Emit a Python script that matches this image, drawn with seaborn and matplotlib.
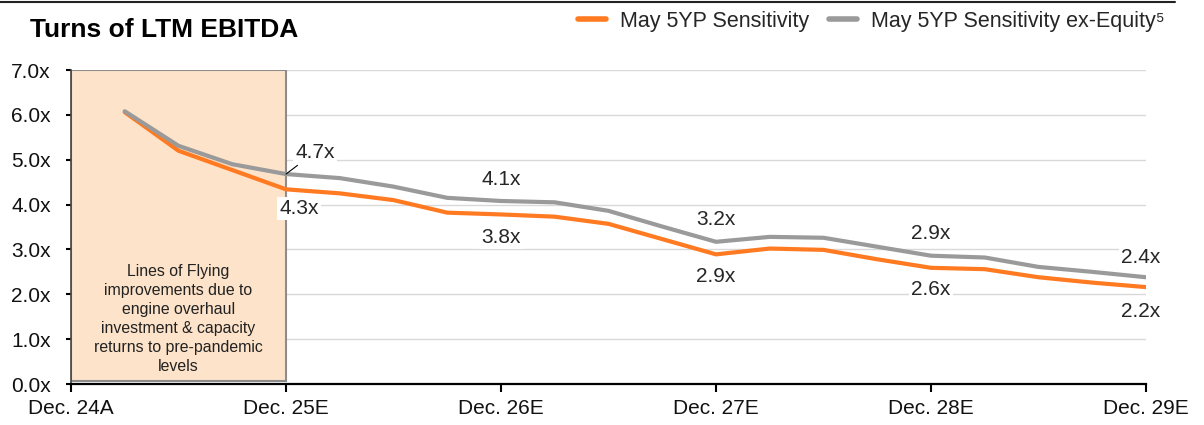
import matplotlib
matplotlib.use("Agg")
import matplotlib.pyplot as plt
import matplotlib.patches as mpatches
from matplotlib.lines import Line2D
import seaborn as sns
import pandas as pd

# ---- data -------------------------------------------------------------
quarters = list(range(1, 21))  # quarter index after Dec. 24A
may_5yp = [6.06, 5.20, 4.77, 4.34, 4.25, 4.10, 3.82, 3.78, 3.73, 3.57,
           3.23, 2.89, 3.02, 2.99, 2.78, 2.59, 2.56, 2.38, 2.26, 2.16]
may_5yp_ex_equity = [6.08, 5.31, 4.90, 4.68, 4.59, 4.40, 4.15, 4.08, 4.05, 3.86,
                     3.51, 3.17, 3.28, 3.26, 3.06, 2.86, 2.82, 2.61, 2.50, 2.38]
tick_positions = [0, 4, 8, 12, 16, 20]
tick_labels = ["Dec. 24A", "Dec. 25E", "Dec. 26E", "Dec. 27E", "Dec. 28E", "Dec. 29E"]
series_names = ["May 5YP Sensitivity", "May 5YP Sensitivity ex-Equity\u2075"]
label_quarters = [4, 8, 12, 16, 20]
y_ticks = [0, 1, 2, 3, 4, 5, 6, 7]
box_text = ("Lines of Flying\nimprovements due to\nengine overhaul\n"
            "investment & capacity\nreturns to pre-pandemic\nlevels")
title = "Turns of LTM EBITDA"

# ---- style ------------------------------------------------------------
sns.set_theme(style="white")
plt.rcParams["font.family"] = ["Liberation Sans", "DejaVu Sans"]

ORANGE = "#FF7A21"
GREY = "#9A9A9A"

df = pd.DataFrame({
    "q": quarters * 2,
    "v": may_5yp + may_5yp_ex_equity,
    "s": [series_names[0]] * len(quarters) + [series_names[1]] * len(quarters),
})

fig = plt.figure(figsize=(12.04, 4.25), dpi=100)
ax = fig.add_axes([71 / 1204, 1 - 384 / 425, (1146 - 71) / 1204, (384 - 70) / 425])

# shaded box
rect = mpatches.Rectangle((0, 0.06), 4, 6.94, facecolor="#FDE3C9",
                          edgecolor="#8C8C8C", linewidth=1.5, zorder=1)
ax.add_patch(rect)
ax.text(2, 1.45, box_text, ha="center", va="center", fontsize=11.4,
        color="#222222", linespacing=1.33, zorder=2)

sns.lineplot(data=df, x="q", y="v", hue="s", palette=[ORANGE, GREY],
             hue_order=series_names, linewidth=3, ax=ax, legend=False, zorder=3)

ax.set_xlim(0, 20)
ax.set_ylim(0, 7)
ax.set_xticks(tick_positions)
ax.set_xticklabels(tick_labels)
ax.set_yticks(y_ticks)
ax.set_yticklabels([f"{t:.1f}x" for t in y_ticks])
ax.set_xlabel("")
ax.set_ylabel("")
ax.yaxis.grid(True, color="#D9D9D9", linewidth=1, zorder=0)
ax.set_axisbelow(True)
for s in ["top", "right"]:
    ax.spines[s].set_visible(False)
ax.spines["bottom"].set_color("black")
ax.spines["bottom"].set_linewidth(1.6)
ax.spines["left"].set_color("#444444")
ax.spines["left"].set_linewidth(1.2)
ax.tick_params(axis="x", direction="out", length=6, width=1.5, color="black",
               labelsize=15, pad=5, bottom=True)
ax.tick_params(axis="y", direction="out", length=3.5, width=1.5, color="black",
               labelsize=15, pad=11, left=True)
for lab in ax.get_xticklabels() + ax.get_yticklabels():
    lab.set_color("#111111")

# data labels
grey_offsets = [(29, 22), (0, 21), (0, 22), (0, 22), (-5, 20)]
orange_offsets = [(13, -19), (0, -23), (0, -22), (0, -22), (-5, -24)]
for i, q in enumerate(label_quarters):
    vg = may_5yp_ex_equity[q - 1]
    vo = may_5yp[q - 1]
    bb = dict(facecolor="white", edgecolor="none", pad=1.5)
    arrow = (dict(arrowstyle="-", color="black", lw=0.8, shrinkA=2, shrinkB=0)
             if i == 0 else None)
    ax.annotate(f"{vg:.1f}x", xy=(q, vg), xytext=grey_offsets[i],
                textcoords="offset pixels", ha="center", va="center",
                fontsize=15, bbox=bb, zorder=5, arrowprops=arrow)
    ax.annotate(f"{vo:.1f}x", xy=(q, vo), xytext=orange_offsets[i],
                textcoords="offset pixels", ha="center", va="center",
                fontsize=15, bbox=bb, zorder=5)

# legend
handles = [Line2D([], [], color=ORANGE, lw=4), Line2D([], [], color=GREY, lw=4)]
fig.legend(handles, series_names, loc="upper right",
           bbox_to_anchor=(1165 / 1204, 1 - 11 / 425), ncol=2, frameon=False,
           fontsize=15.5, handlelength=1.3, handletextpad=0.65,
           columnspacing=0.95, borderpad=0, borderaxespad=0)

# title
fig.text(30 / 1204, 1 - 30 / 425, title, fontsize=19, fontweight="bold",
         ha="left", va="center", color="black")

# top rule
fig.add_artist(Line2D([0, 1175 / 1204], [1 - 1.5 / 425, 1 - 1.5 / 425],
                      color="#222222", lw=1.5))

fig.savefig("out.png", dpi=100)
